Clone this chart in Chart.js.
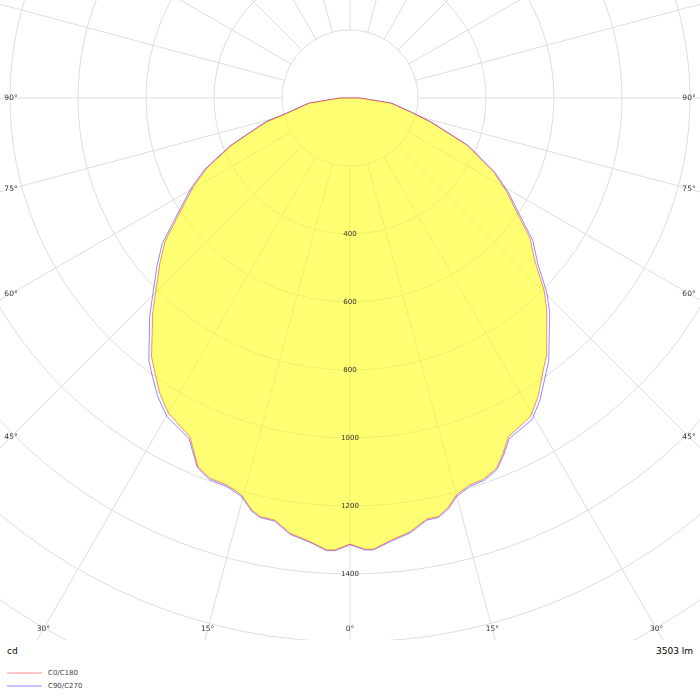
<!DOCTYPE html>
<html>
<head>
<meta charset="utf-8">
<script src="https://cdn.jsdelivr.net/npm/chart.js@4.4.1/dist/chart.umd.min.js"></script>
<style>
  html, body { margin: 0; padding: 0; background: #ffffff; }
  #wrap { position: relative; width: 700px; height: 700px; overflow: hidden; font-family: "DejaVu Sans", sans-serif; }
  #box { position: absolute; left: 0; top: 0; width: 700px; height: 640px; }
  .unit { position: absolute; top: 645px; font-size: 9px; color: #000; line-height: 12px; }
  .leg { position: absolute; left: 7px; font-size: 7px; color: #444; line-height: 10px; }
  .leg span.ln { display: inline-block; width: 35px; height: 0; border-top: 2px solid; vertical-align: middle; margin-right: 6px; }
</style>
</head>
<body>
<div id="wrap">
  <div id="box"><canvas id="c" width="700" height="640"></canvas></div>
  <div class="unit" id="unitL" style="left:7px;"></div>
  <div class="unit" id="unitR" style="right:7px;"></div>
  <div class="leg" id="leg0" style="top:668px;"></div>
  <div class="leg" id="leg1" style="top:681px;"></div>
</div>
<script>
// ---- data ----
// angle from nadir in degrees: negative = C180 / C270 half, positive = C0 / C90 half
const angles = [-180, -90, -82.9, -76.4, -74.1, -68.3, -63.9, -60.5, -56.2, -52.2, -49, -45.3, -42.5, -37.5, -35.3,
  -32.8, -29.95, -25.3, -22.4, -20.2, -17.7, -15.3, -13.4, -12.1, -10.1, -7.85, -5.15, -2.95, -1.9, 0,
  1.9, 2.95, 5.2, 7.9, 10.3, 11.9, 13.5, 15.0, 17.2, 19.3, 21.6, 23.3, 25.05, 29.5, 32.2,
  35, 37.15, 42.9, 45.3, 48.5, 52.1, 55.7, 59.1, 62.8, 68.1, 73.5, 77.1, 82.9, 90, 180];
const c0c180 = [0, 29, 119, 191, 255, 374, 469, 529, 601, 689, 741, 803, 859, 959, 992,
  1033, 1070, 1102, 1173, 1192, 1194, 1210, 1246, 1259, 1261, 1292, 1310, 1331, 1330, 1312,
  1328, 1329, 1307, 1288, 1259, 1258, 1238, 1209, 1191, 1188, 1171, 1138, 1100, 1077, 1038,
  988, 955, 850, 803, 727, 671, 593, 537, 474, 370, 245, 181, 120, 29, 0];
const c90c270 = [0, 29, 123, 195, 260, 379, 475, 536, 609, 699, 752, 815, 872, 972, 1005,
  1044, 1080, 1108, 1177, 1196, 1198, 1214, 1249, 1262, 1264, 1295, 1312, 1333, 1332, 1314,
  1330, 1331, 1310, 1291, 1262, 1261, 1242, 1213, 1195, 1192, 1175, 1143, 1106, 1087, 1049,
  1001, 968, 863, 815, 738, 681, 601, 544, 480, 375, 250, 185, 124, 29, 0];
const seriesNames = ['C0/C180', 'C90/C270'];
const ringValues = [200, 400, 600, 800, 1000, 1200, 1400, 1600, 1800, 2000];
const ringLabels = ['400', '600', '800', '1000', '1200', '1400'];
const angleLabels = ['0°', '15°', '30°', '45°', '60°', '75°', '90°'];
const angleTicks = [0, 15, 30, 45, 60, 75, 90];
const angleStep = 15;
const unitText = 'cd';
const fluxText = '3503 lm';

// ---- styles ----
const lineColors = ['rgba(255,0,0,0.45)', 'rgba(0,0,255,0.45)'];
const legendColors = ['#ffc4c4', '#c4c4ff'];
const fillColor = 'rgba(255,255,0,0.55)';
const gridColor = '#dddddd';

function toXY(a, v) {
  const t = a * Math.PI / 180;
  return { x: v * Math.sin(t), y: -v * Math.cos(t) };
}

const polarGrid = {
  id: 'polarGrid',
  beforeDatasetsDraw(chart) {
    const { ctx, chartArea: a, scales: { x, y } } = chart;
    const cx = x.getPixelForValue(0), cy = y.getPixelForValue(0);
    const rad = v => x.getPixelForValue(v) - cx;
    ctx.save();
    ctx.beginPath(); ctx.rect(a.left, a.top, a.right - a.left, a.bottom - a.top); ctx.clip();
    ctx.strokeStyle = gridColor; ctx.lineWidth = 1;
    ringValues.forEach(v => { ctx.beginPath(); ctx.arc(cx, cy, rad(v), 0, Math.PI * 2); ctx.stroke(); });
    const r0 = rad(ringValues[0]);
    const r1 = rad(ringValues[ringValues.length - 1]) * 2;
    for (let d = 0; d < 360; d += angleStep) {
      const t = d * Math.PI / 180, sx = Math.sin(t), sy = Math.cos(t);
      ctx.beginPath();
      ctx.moveTo(cx + r0 * sx, cy + r0 * sy);
      ctx.lineTo(cx + r1 * sx, cy + r1 * sy);
      ctx.stroke();
    }
    ctx.restore();
  },
  afterDatasetsDraw(chart) {
    const { ctx, chartArea: a, scales: { x, y } } = chart;
    const cx = x.getPixelForValue(0), cy = y.getPixelForValue(0);
    ctx.save();
    ctx.textAlign = 'center';
    ctx.textBaseline = 'middle';
    // ring labels along the nadir
    ctx.font = '7px "DejaVu Sans"';
    ctx.fillStyle = '#333';
    ringLabels.forEach(l => {
      const py = y.getPixelForValue(-Number(l));
      ctx.fillText(l, cx, py);
    });
    // angle labels projected onto the frame
    ctx.font = '7.5px "DejaVu Sans"';
    const inset = 11;
    const bottom = a.bottom - inset;
    angleTicks.forEach((d, i) => {
      const t = d * Math.PI / 180;
      [-1, 1].forEach(s => {
        if (d === 0 && s < 0) return;
        const dx = Math.sin(t) * s, dy = Math.cos(t);
        const side = s > 0 ? a.right - inset : a.left + inset;
        const tb = dy > 1e-9 ? (bottom - cy) / dy : Infinity;
        const ts = Math.abs(dx) > 1e-9 ? (side - cx) / dx : Infinity;
        const tt = Math.min(tb, ts);
        ctx.fillText(angleLabels[i], cx + dx * tt, cy + dy * tt);
      });
    });
    ctx.restore();
  }
};

const datasets = [c0c180, c90c270].map((vals, i) => ({
  label: seriesNames[i],
  data: vals.map((v, k) => toXY(angles[k], v)),
  showLine: true,
  borderColor: lineColors[i],
  borderWidth: 1,
  pointRadius: 0,
  pointHoverRadius: 0,
  tension: 0,
  fill: i === 0 ? 'shape' : false,
  backgroundColor: i === 0 ? fillColor : 'transparent'
}));

const pxPerCd = 0.34;
new Chart(document.getElementById('c'), {
  type: 'scatter',
  data: { datasets },
  options: {
    responsive: false,
    animation: false,
    layout: { padding: 0 },
    scales: {
      x: { type: 'linear', display: false, min: -350 / pxPerCd, max: 350 / pxPerCd },
      y: { type: 'linear', display: false, min: -542 / pxPerCd, max: 98 / pxPerCd }
    },
    plugins: { legend: { display: false }, tooltip: { enabled: false } }
  },
  plugins: [polarGrid]
});

document.getElementById('unitL').textContent = unitText;
document.getElementById('unitR').textContent = fluxText;
seriesNames.forEach((n, i) => {
  const el = document.getElementById('leg' + i);
  const ln = document.createElement('span');
  ln.className = 'ln';
  ln.style.borderTopColor = legendColors[i];
  el.appendChild(ln);
  el.appendChild(document.createTextNode(n));
});
</script>
</body>
</html>
